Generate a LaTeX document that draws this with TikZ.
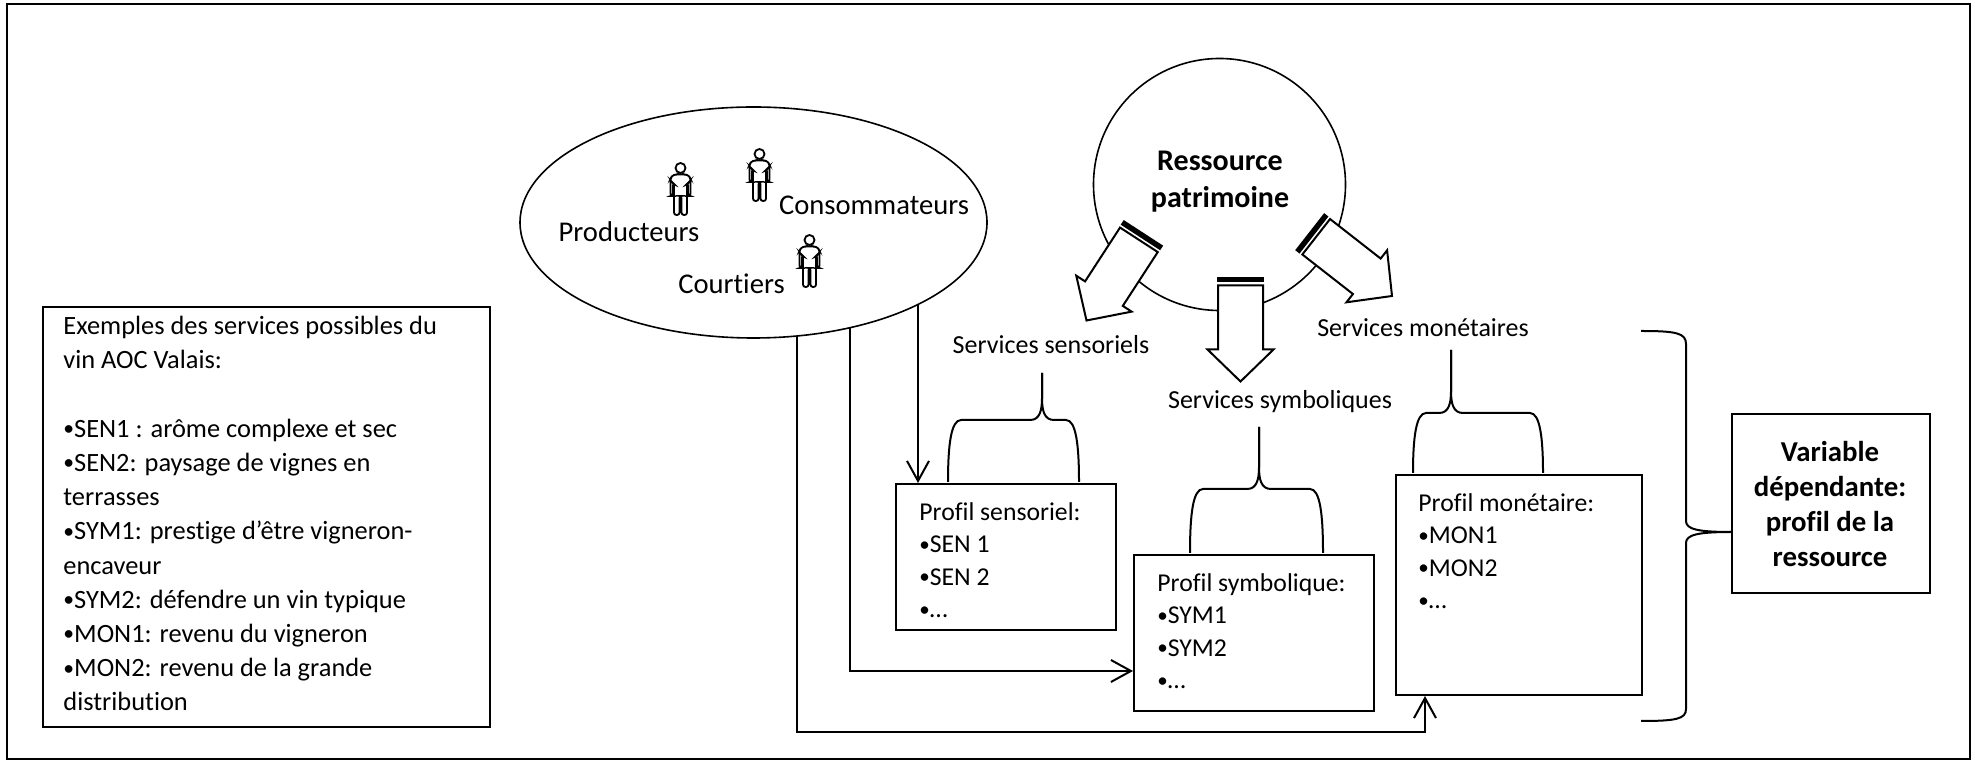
\documentclass[tikz,border=0pt]{standalone}
\usepackage{fontspec}
\setmainfont{Carlito}[Ligatures={NoCommon}]
\usetikzlibrary{arrows.meta,shapes.geometric}
\pgfdeclarelayer{background}
\pgfsetlayers{background,main}
\newcommand\bul{\raisebox{0.06em}{\scalebox{0.82}{•}}}
\newcommand\stripedarrow[3]{%
 \begin{scope}[shift={(#1,#2)}, rotate=#3]
  \fill (-23.5,-104.5) -- (23.5,-104.5) -- (23.5,-99) -- (-23.5,-99) -- cycle;
  \draw[line width=1pt, fill=white, line join=miter] (-22.5,-96.2) -- (-22.5,-32) -- (-33,-32) -- (0,0) -- (33,-32) -- (22.5,-32) -- (22.5,-96.2) -- cycle;
 \end{scope}}
\newcommand\personicon[2]{%
 \begin{scope}[shift={(#1,#2)}, line width=0.9pt]
  \draw (0,6) circle[radius=5];
  \draw[rounded corners=1.2pt] (-4.5,12.5) -- (-8.5,13.5) -- (-10,17) -- (-10,34) -- (-7.5,34) -- (-7.5,21) -- (-6.5,22) -- (-6.5,53) -- (-1,53) -- (-1,34) -- (1,34) -- (1,53) -- (6.5,53) -- (6.5,22) -- (7.5,21) -- (7.5,34) -- (10,34) -- (10,17) -- (8.5,13.5) -- (4.5,12.5) -- cycle;
 \end{scope}}
\newcommand\upbrace[6]{% xl xr xt yb yh ytip
 \draw[brace] (#1,#4) .. controls (#1,#5+25) and (#1+3,#5) .. (#1+13,#5) -- (#3-12,#5) .. controls (#3-2,#5) and (#3,#5-10) .. (#3,#5-22) -- (#3,#6);
 \draw[brace] (#3,#6) -- (#3,#5-22) .. controls (#3,#5-10) and (#3+2,#5) .. (#3+12,#5) -- (#2-13,#5) .. controls (#2-3,#5) and (#2,#5+25) .. (#2,#4);}
\begin{document}
\begin{tikzpicture}[x=0.5pt,y=-0.5pt,
 box/.style={draw, line width=1pt, inner sep=0pt, anchor=north west},
 conn/.style={line width=1pt, -{Straight Barb[length=10pt, width=11pt, line width=1pt]}},
 brace/.style={line width=1pt},
 txt/.style={inner sep=0pt, font=\fontsize{12.85}{16.25}\selectfont, align=left, anchor=north west},
 lbl/.style={inner sep=0pt, font=\fontsize{13}{15.6}\selectfont, text height=9pt, text depth=2.6pt},
 grp/.style={inner sep=0pt, font=\fontsize{14.3}{17}\selectfont, text height=9.9pt, text depth=2.9pt},
 bold/.style={inner sep=0pt, font=\bfseries\fontsize{14.4}{17.5}\selectfont, align=center}]
\useasboundingbox (0,0) rectangle (1975,763);
\begin{pgfonlayer}{background}
\fill[white] (0,0) rectangle (1975,763);
\end{pgfonlayer}
\draw[line width=1pt] (7,4) rectangle (1970,759);

% left box
\node[box, minimum width=223.5pt, minimum height=210pt] (ex) at (42,306) {};
\node[txt, font=\fontsize{13.2}{17.1}\selectfont] (extxt) at (63,316) {Exemples des services possibles du\\vin AOC Valais:\\[17.1pt]\bul SEN1 : arôme complexe et sec\\\bul SEN2: paysage de vignes en\\terrasses\\\bul SYM1: prestige d’être vigneron-\\encaveur\\\bul SYM2: défendre un vin typique\\\bul MON1: revenu du vigneron\\\bul MON2: revenu de la grande\\distribution};

% profile boxes
\node[box, minimum width=110pt, minimum height=73pt] (sens) at (895,483) {};
\node[txt] (senstxt) at (919,502) {Profil sensoriel:\\\bul SEN 1\\\bul SEN 2\\\bul …};
\node[box, minimum width=120pt, minimum height=78pt] (sym) at (1133,554) {};
\node[txt] (symtxt) at (1157,573) {Profil symbolique:\\\bul SYM1\\\bul SYM2\\\bul …};
\node[box, minimum width=123pt, minimum height=110pt] (mon) at (1395,474) {};
\node[txt] (montxt) at (1418,493) {Profil monétaire:\\\bul MON1\\\bul MON2\\\bul …};
\node[box, minimum width=99pt, minimum height=89.5pt] (var) at (1731,413) {};
\node[bold] (vartxt) at (1830,504) {Variable\\dépendante:\\profil de la\\ressource};

% connectors from the actors ellipse
\coordinate (a1) at (918,250);
\coordinate (a2) at (850,250);
\coordinate (a3) at (797,250);
\coordinate (b3) at (797,732);
\begin{pgfonlayer}{background}
\draw[conn] (a1) -- (a1 |- sens.north);
\draw[conn] (a2) |- ([yshift=-19pt]sym.west);
\draw[conn] (a3) -- (b3) -| ([xshift=15pt]mon.south west);
\end{pgfonlayer}

% actors ellipse
\node[ellipse, draw, line width=0.8pt, fill=white, minimum width=233.5pt, minimum height=115.5pt, inner sep=0pt] (actors) at (753.5,222.5) {};
\personicon{680.5}{162}
\personicon{759.5}{148}
\personicon{809.5}{234}
\node[grp] (prod) at (629,235) {Producteurs};
\node[grp] (cons) at (874,208) {Consommateurs};
\node[grp] (court) at (731.5,287) {Courtiers};

% resource circle
\node[circle, draw, line width=0.8pt, minimum size=126pt, inner sep=0pt] (res) at (1219.5,184.5) {};
\node[bold, font=\bfseries\fontsize{15}{18.5}\selectfont] (restxt) at (1220,182) {Ressource\\patrimoine};
\stripedarrow{1086.5}{320.5}{-33}
\stripedarrow{1240.5}{381.5}{0}
\stripedarrow{1392}{296}{52}

% service labels
\node[lbl] (ssens) at (1051,347) {Services sensoriels};
\node[lbl] (ssym) at (1280,402) {Services symboliques};
\node[lbl] (smon) at (1423,330) {Services monétaires};

% braces
\upbrace{948}{1079}{1042}{482}{420}{373}
\upbrace{1190}{1323}{1259}{553}{489}{427}
\upbrace{1413}{1543}{1451}{473}{413}{350}
\draw[brace] (1641,331) .. controls (1676,331) and (1686,333) .. (1686,344) -- (1686,521) .. controls (1686,529) and (1697,532) .. (1731,532);
\draw[brace] (1731,532) .. controls (1697,532) and (1686,535) .. (1686,543) -- (1686,709) .. controls (1686,719) and (1676,721) .. (1641,721);
\end{tikzpicture}
\end{document}
